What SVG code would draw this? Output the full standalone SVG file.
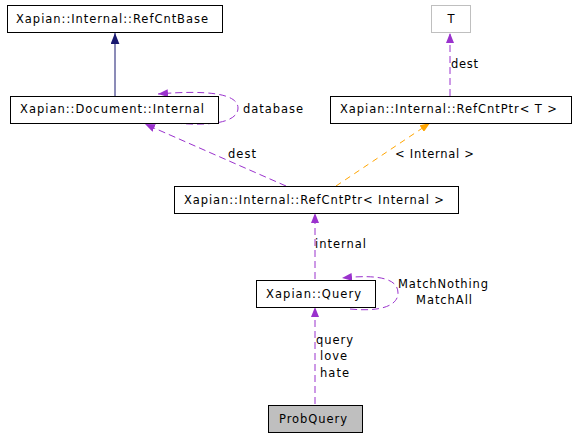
<svg xmlns="http://www.w3.org/2000/svg" width="575" height="437" viewBox="0 0 575 437">
<style>
text{font-family:"DejaVu Sans","Liberation Sans",sans-serif;font-size:11.5px;fill:#000}
.box rect{fill:#fff;stroke:#000;stroke-width:1}
.p{fill:none;stroke:#9a32cd;stroke-width:1;stroke-dasharray:7,4}
.o{fill:none;stroke:#ffa500;stroke-width:1;stroke-dasharray:6,5}
.n{fill:none;stroke:#191970;stroke-width:1}
</style>
<defs>
<marker id="mp" viewBox="0 0 10 8" refX="10" refY="4" markerWidth="10" markerHeight="8" markerUnits="userSpaceOnUse" orient="auto"><path d="M0,0 L10,4 L0,8 Z" fill="#9a32cd"/></marker>
<marker id="mo" viewBox="0 0 10 8" refX="10" refY="4" markerWidth="10" markerHeight="8" markerUnits="userSpaceOnUse" orient="auto"><path d="M0,0 L10,4 L0,8 Z" fill="#ffa500"/></marker>
<marker id="mn" viewBox="0 0 10 8" refX="10" refY="4" markerWidth="11" markerHeight="9" markerUnits="userSpaceOnUse" orient="auto"><path d="M0,0 L10,4 L0,8 Z" fill="#191970"/></marker>
</defs>
<g id="edges">
<path class="n" d="M115,96 L115,33" marker-end="url(#mn)"/>
<path class="p" d="M175,123 C205,126 238,124 238,108 C238,93 205,90 158,94" marker-end="url(#mp)"/>
<path class="p" d="M450,96 L450,33" marker-end="url(#mp)"/>
<path class="p" d="M286,186 L145,124" marker-end="url(#mp)"/>
<path class="o" d="M336,186 L430,123" marker-end="url(#mo)"/>
<path class="p" d="M315,279 L315,213" marker-end="url(#mp)"/>
<path class="p" d="M350,309 C380,312 398,306 398,293 C398,279 380,274 342,278" marker-end="url(#mp)"/>
<path class="p" d="M315,404 L315,307" marker-end="url(#mp)"/>
<text x="243" y="113" textLength="60" lengthAdjust="spacing">database</text>
<text x="451" y="68" textLength="27" lengthAdjust="spacing">dest</text>
<text x="228" y="158" textLength="28" lengthAdjust="spacing">dest</text>
<text x="395" y="158" textLength="79" lengthAdjust="spacing">&lt; Internal &gt;</text>
<text x="315" y="248" textLength="51" lengthAdjust="spacing">internal</text>
<text x="398" y="288" textLength="90" lengthAdjust="spacing">MatchNothing</text>
<text x="416" y="304" textLength="56" lengthAdjust="spacing">MatchAll</text>
<text x="316" y="344" textLength="37" lengthAdjust="spacing">query</text>
<text x="320" y="360" textLength="27" lengthAdjust="spacing">love</text>
<text x="320" y="377" textLength="29" lengthAdjust="spacing">hate</text>
</g>
<g id="RefCntBase" class="box"><rect x="7.5" y="5.5" width="215" height="27"/><text x="16" y="23" textLength="192" lengthAdjust="spacing">Xapian::Internal::RefCntBase</text></g>
<g id="DocumentInternal" class="box"><rect x="10.5" y="96.5" width="208" height="27"/><text x="20" y="113" textLength="184" lengthAdjust="spacing">Xapian::Document::Internal</text></g>
<g id="T"><rect x="431.5" y="5.5" width="39" height="27" fill="#fff" stroke="#bfbfbf"/><text x="451" y="23" text-anchor="middle">T</text></g>
<g id="RefCntPtrT" class="box"><rect x="330.5" y="96.5" width="241" height="27"/><text x="340" y="113" textLength="217" lengthAdjust="spacing">Xapian::Internal::RefCntPtr&lt; T &gt;</text></g>
<g id="RefCntPtrInternal" class="box"><rect x="174.5" y="186.5" width="284" height="27"/><text x="184" y="204" textLength="260" lengthAdjust="spacing">Xapian::Internal::RefCntPtr&lt; Internal &gt;</text></g>
<g id="Query" class="box"><rect x="256.5" y="280.5" width="119" height="27"/><text x="266" y="298" textLength="95" lengthAdjust="spacing">Xapian::Query</text></g>
<g id="ProbQuery"><rect x="268.5" y="405.5" width="94" height="27" fill="#bfbfbf" stroke="#000"/><text x="279" y="423" textLength="68" lengthAdjust="spacing">ProbQuery</text></g>
</svg>
